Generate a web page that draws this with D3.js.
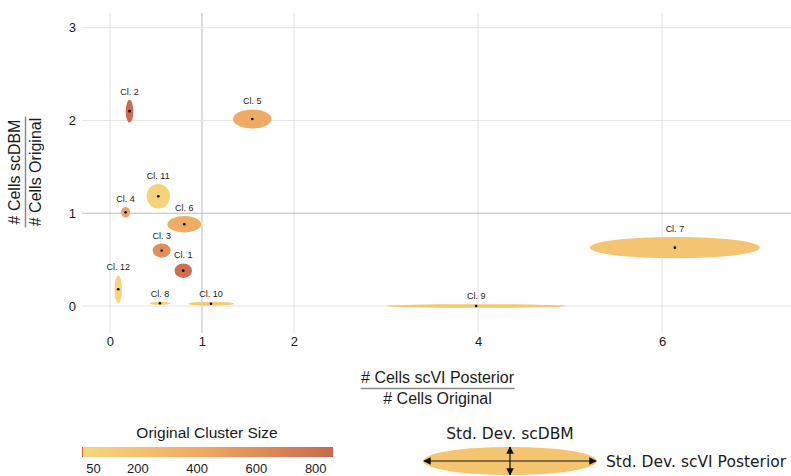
<!DOCTYPE html>
<html>
<head>
<meta charset="utf-8">
<script src="https://cdn.jsdelivr.net/npm/d3@7"></script>
<style>
  html, body { margin: 0; padding: 0; background: #fff; }
  svg { display: block; }
</style>
</head>
<body>
<svg id="chart" width="791" height="476"></svg>
<script>
// Cluster ratios (resampled / original cell counts) and their spread
const clusters   = ["Cl. 1", "Cl. 2", "Cl. 3", "Cl. 4", "Cl. 5", "Cl. 6", "Cl. 7", "Cl. 8", "Cl. 9", "Cl. 10", "Cl. 11", "Cl. 12"];
const ratioScvi  = [0.797, 0.213, 0.562, 0.170, 1.547, 0.808, 6.140, 0.543, 3.980, 1.098, 0.525, 0.090];
const ratioScdbm = [0.381, 2.100, 0.597, 1.011, 2.015, 0.881, 0.629, 0.029, 0.000, 0.025, 1.183, 0.180];
const sdScvi     = [0.095, 0.041, 0.098, 0.049, 0.209, 0.183, 0.924, 0.112, 0.978, 0.247, 0.127, 0.040];
const sdScdbm    = [0.078, 0.122, 0.076, 0.057, 0.103, 0.088, 0.115, 0.018, 0.020, 0.022, 0.133, 0.149];
const clusterSize = [820, 850, 600, 470, 400, 390, 190, 90, 150, 130, 60, 40];

const xTicks = [0, 1, 2, 4, 6];
const yTicks = [0, 1, 2, 3];
const sizeTicks = [50, 200, 400, 600, 800];
const sizeRange = [13, 860];

const svg = d3.select("#chart");
const plotFont = "'Liberation Sans', Arial, sans-serif";

const x = d3.scaleLinear().domain([-0.304, 7.402]).range([82, 791]);
const y = d3.scaleLinear().domain([-0.291, 3.158]).range([333, 13]);

const color = d3.scaleLinear()
  .domain([sizeRange[0], 430, sizeRange[1]])
  .range(["#f6d87c", "#eea862", "#c9684f"])
  .interpolate(d3.interpolateLab);

// grid
const grid = svg.append("g");
grid.selectAll("line.vx").data(xTicks).join("line")
  .attr("x1", d => x(d)).attr("x2", d => x(d))
  .attr("y1", y.range()[1]).attr("y2", y.range()[0])
  .attr("stroke", d => d === 1 ? "#bcbcbc" : "#e3e3e3").attr("stroke-width", 1);
grid.selectAll("line.hy").data(yTicks).join("line")
  .attr("y1", d => y(d)).attr("y2", d => y(d))
  .attr("x1", x.range()[0]).attr("x2", x.range()[1])
  .attr("stroke", d => d === 1 ? "#bcbcbc" : "#e3e3e3").attr("stroke-width", 1);

// axes (labels only)
const xAxis = svg.append("g").attr("transform", "translate(0,335)")
  .call(d3.axisBottom(x).tickValues(xTicks).tickFormat(d3.format("d")).tickSize(0).tickPadding(0));
xAxis.select(".domain").remove();
xAxis.selectAll("text").attr("font-family", plotFont).attr("font-size", 13).attr("fill", "#1a1a1a").attr("dy", "0.85em");

const yAxis = svg.append("g").attr("transform", "translate(76,0)")
  .call(d3.axisLeft(y).tickValues(yTicks).tickFormat(d3.format("d")).tickSize(0).tickPadding(0));
yAxis.select(".domain").remove();
yAxis.selectAll("text").attr("font-family", plotFont).attr("font-size", 13).attr("fill", "#1a1a1a");

// cluster ellipses
const data = clusters.map((c, i) => ({
  name: c, cx: ratioScvi[i], cy: ratioScdbm[i], sx: sdScvi[i], sy: sdScdbm[i], size: clusterSize[i]
}));
const marks = svg.append("g");
marks.selectAll("ellipse").data(data).join("ellipse")
  .attr("cx", d => x(d.cx)).attr("cy", d => y(d.cy))
  .attr("rx", d => x(d.cx + d.sx) - x(d.cx))
  .attr("ry", d => y(d.cy) - y(d.cy + d.sy))
  .attr("fill", d => color(d.size));
marks.selectAll("circle").data(data).join("circle")
  .attr("cx", d => x(d.cx)).attr("cy", d => y(d.cy)).attr("r", 1.3).attr("fill", "#000");
marks.selectAll("text").data(data).join("text")
  .attr("x", d => x(d.cx)).attr("y", d => y(d.cy + d.sy) - 5)
  .attr("text-anchor", "middle").attr("font-family", plotFont).attr("font-size", 9).attr("fill", "#222")
  .text(d => d.name);

// fraction-style axis titles
function fraction(g, num, den, lineLen) {
  g.append("text").attr("x", 0).attr("y", -5.5).attr("text-anchor", "middle")
    .attr("font-family", plotFont).attr("font-size", 16).attr("fill", "#1a1a1a").text(num);
  g.append("line").attr("x1", -lineLen / 2).attr("x2", lineLen / 2).attr("y1", 0).attr("y2", 0)
    .attr("stroke", "#8a8a8a").attr("stroke-width", 1.5);
  g.append("text").attr("x", 0).attr("y", 15).attr("text-anchor", "middle")
    .attr("font-family", plotFont).attr("font-size", 16).attr("fill", "#1a1a1a").text(den);
}
fraction(svg.append("g").attr("transform", "translate(437.5,388.5)"),
  "# Cells scVI Posterior", "# Cells Original", 154);
fraction(svg.append("g").attr("transform", "translate(25.5,172) rotate(-90)"),
  "# Cells scDBM", "# Cells Original", 111);

// colour legend
const lx = d3.scaleLinear().domain(sizeRange).range([82, 333]);
const grad = svg.append("defs").append("linearGradient").attr("id", "sizeGrad")
  .attr("x1", "0%").attr("x2", "100%").attr("y1", "0%").attr("y2", "0%");
d3.range(0, 1.0001, 0.05).forEach(t => {
  grad.append("stop").attr("offset", (t * 100) + "%")
    .attr("stop-color", color(sizeRange[0] + t * (sizeRange[1] - sizeRange[0])));
});
svg.append("text").attr("x", 207).attr("y", 438).attr("text-anchor", "middle")
  .attr("font-family", plotFont).attr("font-size", 15.5).attr("fill", "#1a1a1a").text("Original Cluster Size");
svg.append("rect").attr("x", lx.range()[0]).attr("y", 447).attr("width", lx.range()[1] - lx.range()[0]).attr("height", 10)
  .attr("fill", "url(#sizeGrad)");
svg.append("line").attr("x1", 82.5).attr("x2", 82.5).attr("y1", 447).attr("y2", 457)
  .attr("stroke", "#d0604a").attr("stroke-width", 1);
const legAxis = svg.append("g").attr("transform", "translate(0,462)")
  .call(d3.axisBottom(lx).tickValues(sizeTicks).tickSize(0).tickPadding(0));
legAxis.select(".domain").remove();
legAxis.selectAll("text").attr("font-family", plotFont).attr("font-size", 13).attr("fill", "#1a1a1a").attr("dy", "0.85em");

// std. dev. key
const key = svg.append("g").attr("transform", "translate(510,461)");
const arrow = svg.select("defs").append("marker").attr("id", "arrowHead")
  .attr("viewBox", "0 0 10 10").attr("refX", 9).attr("refY", 5)
  .attr("markerWidth", 5).attr("markerHeight", 5).attr("orient", "auto-start-reverse");
arrow.append("path").attr("d", "M0,0 L10,5 L0,10 z").attr("fill", "#111");
key.append("ellipse").attr("rx", 87).attr("ry", 14).attr("fill", "#f4c46e");
key.append("line").attr("x1", -86).attr("x2", 86).attr("y1", 0).attr("y2", 0)
  .attr("stroke", "#111").attr("stroke-opacity", 0.65).attr("stroke-width", 1.5)
  .attr("marker-start", "url(#arrowHead)").attr("marker-end", "url(#arrowHead)");
key.append("line").attr("x1", 0).attr("x2", 0).attr("y1", -14).attr("y2", 14)
  .attr("stroke", "#111").attr("stroke-opacity", 0.8).attr("stroke-width", 1.5)
  .attr("marker-start", "url(#arrowHead)").attr("marker-end", "url(#arrowHead)");
svg.append("text").attr("x", 510).attr("y", 439).attr("text-anchor", "middle")
  .attr("font-family", "'DejaVu Sans', sans-serif").attr("font-size", 15.5).attr("fill", "#1a1a1a").text("Std. Dev. scDBM");
svg.append("text").attr("x", 606).attr("y", 467).attr("text-anchor", "start")
  .attr("font-family", "'DejaVu Sans', sans-serif").attr("font-size", 15.5).attr("fill", "#1a1a1a").text("Std. Dev. scVI Posterior");
</script>
</body>
</html>
